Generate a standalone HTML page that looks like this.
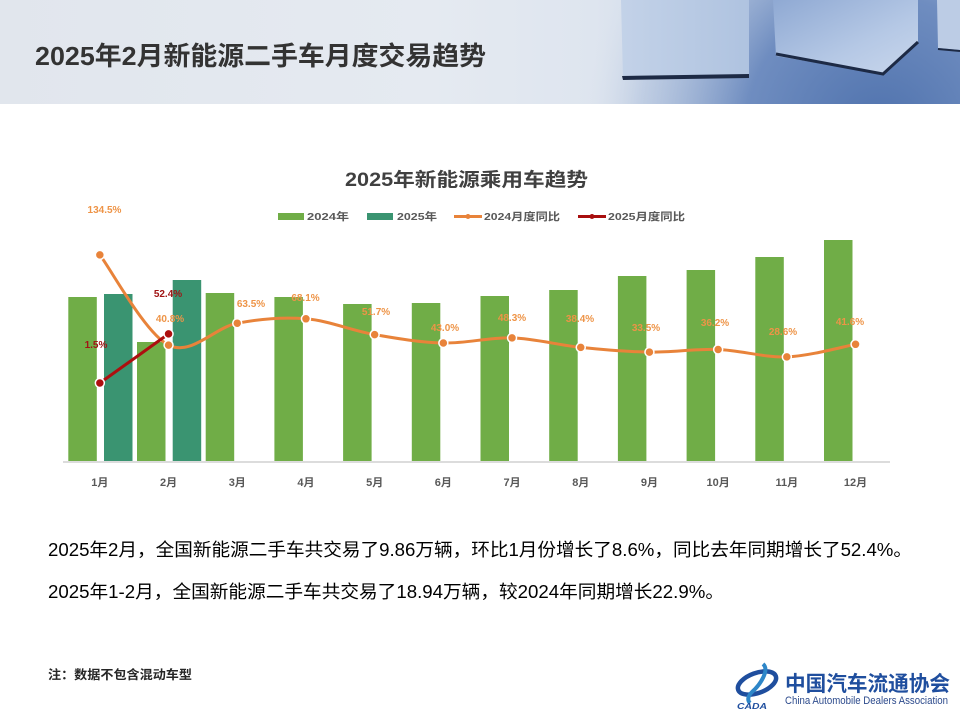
<!DOCTYPE html>
<html><head><meta charset="utf-8"><style>
html,body{margin:0;padding:0;background:#fff;}
svg{display:block;}
text{font-family:"Liberation Sans","Noto Sans CJK SC",sans-serif;}
</style></head><body>
<svg width="960" height="720" viewBox="0 0 960 720" xmlns="http://www.w3.org/2000/svg">
<defs>
<linearGradient id="hdr" x1="0" y1="0" x2="1" y2="0">
<stop offset="0" stop-color="#E1E6ED"/>
<stop offset="0.45" stop-color="#E5EAF1"/>
<stop offset="0.62" stop-color="#DEE5EF"/>
<stop offset="0.8" stop-color="#C3D1E6"/>
<stop offset="1" stop-color="#A8BBDA"/>
</linearGradient>
<radialGradient id="floor" cx="880" cy="130" r="300" gradientUnits="userSpaceOnUse">
<stop offset="0" stop-color="#4F72AD"/>
<stop offset="0.45" stop-color="#6F8DC0"/>
<stop offset="0.8" stop-color="#A9BCDA" stop-opacity="0.5"/>
<stop offset="1" stop-color="#DDE4EE" stop-opacity="0"/>
</radialGradient>
<linearGradient id="c1" x1="0" y1="0" x2="1" y2="0">
<stop offset="0" stop-color="#C3D2E8"/>
<stop offset="1" stop-color="#AFC3E0"/>
</linearGradient>
<linearGradient id="c2" x1="0" y1="0" x2="1" y2="1">
<stop offset="0" stop-color="#8FA9D3"/>
<stop offset="0.6" stop-color="#B5C8E5"/>
<stop offset="1" stop-color="#C9D7EC"/>
</linearGradient>
</defs>

<!-- header -->
<rect x="0" y="0" width="960" height="104" fill="url(#hdr)"/>
<rect x="500" y="0" width="460" height="104" fill="url(#floor)"/>
<polygon points="621,0 749,0 749,76 623,78" fill="url(#c1)"/>
<polygon points="622,76 749,74 749,78 623,80" fill="#1D2A45"/>
<polygon points="773,0 918,0 918,42 883,74 776,56" fill="url(#c2)"/>
<polyline points="776,54 883,74 918,42" fill="none" stroke="#1D2A45" stroke-width="3"/>
<polygon points="937,0 960,0 960,50 938,48" fill="#BCCCE5"/>
<line x1="938" y1="49" x2="960" y2="51" stroke="#1D2A45" stroke-width="2"/>
<text x="35" y="65" font-size="26" font-weight="bold" fill="#333" textLength="451" lengthAdjust="spacingAndGlyphs">2025年2月新能源二手车月度交易趋势</text>

<!-- chart title -->
<text x="345" y="186" font-size="19" font-weight="bold" fill="#404040" textLength="243" lengthAdjust="spacingAndGlyphs">2025年新能源乘用车趋势</text>

<!-- legend -->
<rect x="278" y="213" width="26" height="7" fill="#70AD47"/>
<text x="307" y="220" font-size="10.5" font-weight="bold" fill="#595959" textLength="42" lengthAdjust="spacingAndGlyphs">2024年</text>
<rect x="367" y="213" width="26" height="7" fill="#3A9471"/>
<text x="397" y="220" font-size="10.5" font-weight="bold" fill="#595959" textLength="40" lengthAdjust="spacingAndGlyphs">2025年</text>
<line x1="454" y1="216.5" x2="482" y2="216.5" stroke="#E8833A" stroke-width="3"/>
<circle cx="468" cy="216.5" r="2.5" fill="#E8833A"/>
<text x="484" y="220" font-size="10.5" font-weight="bold" fill="#595959" textLength="76" lengthAdjust="spacingAndGlyphs">2024月度同比</text>
<line x1="578" y1="216.5" x2="606" y2="216.5" stroke="#A80F0F" stroke-width="3"/>
<circle cx="592" cy="216.5" r="2.5" fill="#A80F0F"/>
<text x="608" y="220" font-size="10.5" font-weight="bold" fill="#595959" textLength="77" lengthAdjust="spacingAndGlyphs">2025月度同比</text>

<!-- bars 2024 -->
<g fill="#70AD47">
<rect x="68.3" y="297" width="28.5" height="164"/>
<rect x="137.0" y="342" width="28.5" height="119"/>
<rect x="205.7" y="293" width="28.5" height="168"/>
<rect x="274.4" y="297" width="28.5" height="164"/>
<rect x="343.1" y="304" width="28.5" height="157"/>
<rect x="411.8" y="303" width="28.5" height="158"/>
<rect x="480.5" y="296" width="28.5" height="165"/>
<rect x="549.2" y="290" width="28.5" height="171"/>
<rect x="617.9" y="276" width="28.5" height="185"/>
<rect x="686.6" y="270" width="28.5" height="191"/>
<rect x="755.3" y="257" width="28.5" height="204"/>
<rect x="824.0" y="240" width="28.5" height="221"/>
</g>
<!-- bars 2025 -->
<g fill="#3A9471">
<rect x="104" y="294" width="28.5" height="167"/>
<rect x="172.7" y="280" width="28.5" height="181"/>
</g>
<!-- axis -->
<line x1="63" y1="462" x2="890" y2="462" stroke="#D0D0D0" stroke-width="1.5"/>

<!-- orange smoothed line -->
<path d="M99.85,254.9 C111.3,269.93 145.65,333.72 168.55,345.1 C191.45,356.48 214.35,327.58 237.25,323.2 C260.15,318.82 283.05,316.9 305.95,318.8 C328.85,320.7 351.75,330.57 374.65,334.6 C397.55,338.63 420.45,342.45 443.35,343.0 C466.25,343.55 489.15,337.17 512.05,337.9 C534.95,338.63 557.85,345.03 580.75,347.4 C603.65,349.77 626.55,351.75 649.45,352.1 C672.35,352.45 695.25,348.7 718.15,349.5 C741.05,350.3 763.95,357.77 786.85,356.9 C809.75,356.03 844.1,346.4 855.55,344.3" fill="none" stroke="#E8833A" stroke-width="3"/>
<g fill="#E8833A" stroke="#fff" stroke-width="1.5">
<circle cx="99.85" cy="254.9" r="4.5"/>
<circle cx="168.55" cy="345.1" r="4.5"/>
<circle cx="237.25" cy="323.2" r="4.5"/>
<circle cx="305.95" cy="318.8" r="4.5"/>
<circle cx="374.65" cy="334.6" r="4.5"/>
<circle cx="443.35" cy="343.0" r="4.5"/>
<circle cx="512.05" cy="337.9" r="4.5"/>
<circle cx="580.75" cy="347.4" r="4.5"/>
<circle cx="649.45" cy="352.1" r="4.5"/>
<circle cx="718.15" cy="349.5" r="4.5"/>
<circle cx="786.85" cy="356.9" r="4.5"/>
<circle cx="855.55" cy="344.3" r="4.5"/>
</g>
<!-- red line -->
<line x1="99.85" y1="383" x2="168.55" y2="333.9" stroke="#AD0F0F" stroke-width="3"/>
<g fill="#AD0F0F" stroke="#fff" stroke-width="1.5">
<circle cx="99.85" cy="383" r="4.5"/>
<circle cx="168.55" cy="333.9" r="4.5"/>
</g>

<!-- data labels -->
<g font-size="10" font-weight="bold" fill="#EE9447" text-anchor="middle">
<text x="104.5" y="213">134.5%</text>
<text x="170" y="322">40.8%</text>
<text x="251" y="307">63.5%</text>
<text x="305.5" y="301">68.1%</text>
<text x="376" y="315">51.7%</text>
<text x="445" y="331">43.0%</text>
<text x="512" y="321">48.3%</text>
<text x="580" y="322">38.4%</text>
<text x="646" y="331">33.5%</text>
<text x="715" y="326">36.2%</text>
<text x="783" y="335">28.6%</text>
<text x="850" y="325">41.6%</text>
</g>
<g font-size="10" font-weight="bold" fill="#A01414" text-anchor="middle">
<text x="96" y="348">1.5%</text>
<text x="168" y="297">52.4%</text>
</g>

<!-- x labels -->
<g font-size="11" font-weight="bold" fill="#595959" text-anchor="middle">
<text x="99.85" y="486">1月</text>
<text x="168.55" y="486">2月</text>
<text x="237.25" y="486">3月</text>
<text x="305.95" y="486">4月</text>
<text x="374.65" y="486">5月</text>
<text x="443.35" y="486">6月</text>
<text x="512.05" y="486">7月</text>
<text x="580.75" y="486">8月</text>
<text x="649.45" y="486">9月</text>
<text x="718.15" y="486">10月</text>
<text x="786.85" y="486">11月</text>
<text x="855.55" y="486">12月</text>
</g>

<!-- body text -->
<text x="48" y="556" font-size="18" fill="#000" textLength="864" lengthAdjust="spacingAndGlyphs">2025年2月，全国新能源二手车共交易了9.86万辆，环比1月份增长了8.6%，同比去年同期增长了52.4%。</text>
<text x="48" y="598" font-size="18" fill="#000" textLength="676" lengthAdjust="spacingAndGlyphs">2025年1-2月，全国新能源二手车共交易了18.94万辆，较2024年同期增长22.9%。</text>

<text x="48" y="679" font-size="12.5" font-weight="bold" fill="#262626" textLength="144" lengthAdjust="spacingAndGlyphs">注：数据不包含混动车型</text>

<!-- logo -->
<g>
<ellipse cx="757" cy="683" rx="20" ry="10" transform="rotate(-20 757 683)" fill="none" stroke="#1F4E9E" stroke-width="4.5"/>
<path d="M763,664 C770,670 760,685 752,692 C748,696 747,700 750,703" fill="none" stroke="#2E86C8" stroke-width="4"/>
<text x="737" y="709" font-size="8" font-weight="bold" font-style="italic" fill="#1F4E9E" textLength="30" lengthAdjust="spacingAndGlyphs">CADA</text>
</g>
<text x="785" y="691" font-size="21" font-weight="bold" fill="#1F4E9E" font-family="'Liberation Serif','Noto Serif CJK SC',serif" textLength="165" lengthAdjust="spacingAndGlyphs">中国汽车流通协会</text>
<text x="785" y="704" font-size="11" fill="#2C4A8C" textLength="163" lengthAdjust="spacingAndGlyphs">China Automobile Dealers Association</text>
</svg>
</body></html>
